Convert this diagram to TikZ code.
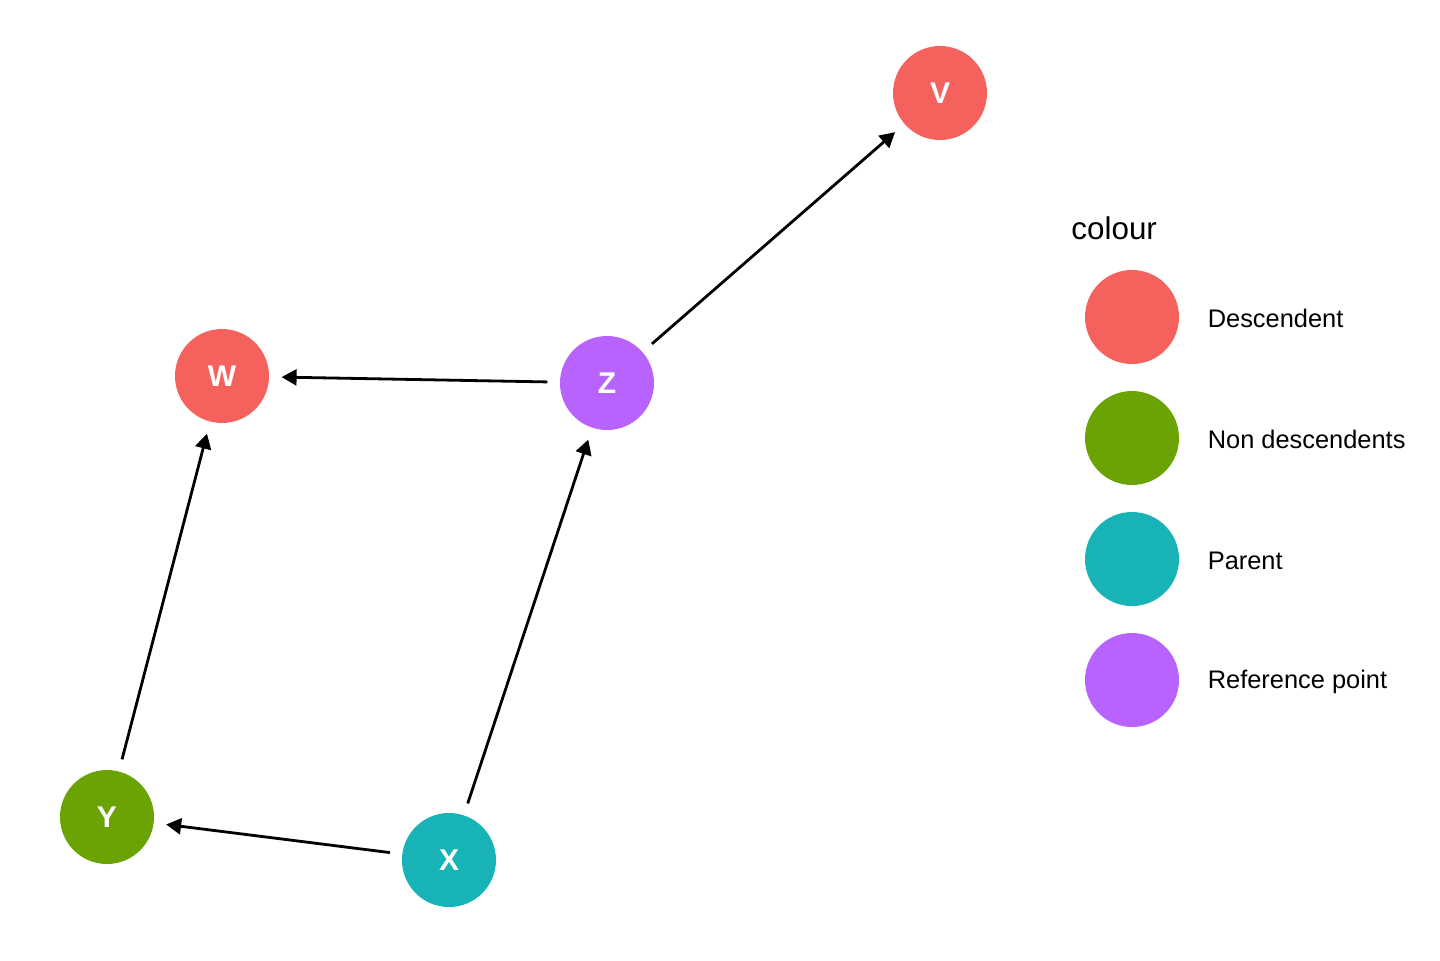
\documentclass[tikz,border=0pt]{standalone}
\usepackage{fontspec}
\setmainfont{Liberation Sans}
\usepackage{xcolor}
\usepackage{tikz}
\usetikzlibrary{arrows.meta,positioning}

\definecolor{descred}{HTML}{F5615D}
\definecolor{nongreen}{HTML}{6BA204}
\definecolor{parteal}{HTML}{17B3B7}
\definecolor{refpurple}{HTML}{B863FE}

\begin{document}
\begin{tikzpicture}[
    x=0.5pt, y=-0.5pt,
    var/.style={circle, minimum size=47pt, inner sep=0pt, outer sep=6.3pt, text=white, font=\bfseries\fontsize{15}{17}\selectfont},
    key/.style={circle, minimum size=47pt, inner sep=0pt},
    keytext/.style={right=14pt of #1, yshift=-0.8pt, font=\fontsize{12.7}{15}\selectfont, inner sep=0pt},
    edge/.style={-{Triangle[length=7.5pt,width=8pt]}, line width=1.4pt}
]
\useasboundingbox (0,0) rectangle (1440,960);

% dag nodes
\node[var, fill=descred] (v) at (940,93) {V};
\node[var, fill=descred] (w) at (222,376) {W};
\node[var, fill=refpurple] (z) at (607,383) {Z};
\node[var, fill=nongreen] (y) at (107,817) {Y};
\node[var, fill=parteal] (x) at (449,860) {X};

\draw[edge] (z) -- (v);
\draw[edge] (z) -- (w);
\draw[edge] (y) -- (w);
\draw[edge] (x) -- (z);
\draw[edge] (x) -- (y);

% legend
\node[anchor=west, inner sep=0pt, font=\fontsize{15.7}{18}\selectfont] (title) at (1071,228) {colour};
\node[key, fill=descred] (k1) at (1132,317) {};
\node[key, fill=nongreen] (k2) at (1132,438) {};
\node[key, fill=parteal] (k3) at (1132,559) {};
\node[key, fill=refpurple] (k4) at (1132,680) {};
\node[keytext=k1] {Descendent};
\node[keytext=k2] {Non descendents};
\node[keytext=k3] {Parent};
\node[keytext=k4] {Reference point};

\end{tikzpicture}
\end{document}
